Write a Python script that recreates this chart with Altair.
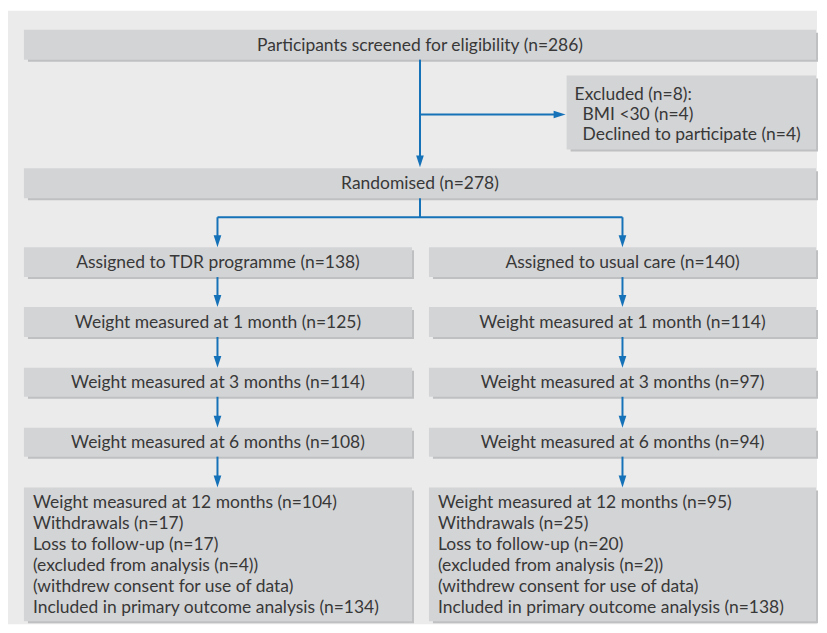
import altair as alt
import pandas as pd

# ---------------- data (text / counts) ----------------
screened_label = "Participants screened for eligibility"
screened_n = 286
excluded_n = 8
excluded_reasons = ["BMI <30", "Declined to participate"]
excluded_counts = [4, 4]
randomised_n = 278
arm_labels = ["Assigned to TDR programme", "Assigned to usual care"]
arm_n = [138, 140]
timepoints = ["1 month", "3 months", "6 months"]
measured_tdr = [125, 114, 108]
measured_uc = [114, 97, 94]
measured_12 = [104, 95]
withdrawals = [17, 25]
lost_followup = [17, 20]
excluded_analysis = [4, 2]
included_primary = [134, 138]

# ---------------- layout (screen pixels) ----------------
BG = "#ebebeb"
BOX = "#d3d4d6"
SHADOW = "#bfc0c2"
TEXT = "#383838"
ARROW = "#1672b8"
FONT = "Lato"
FS = 17.5

cols = [(24, 413), (430, 818)]
col_cx = [218.5, 624]
rows = [(247, 277), (307, 337), (368, 397), (428, 457)]
final_row = (488, 622)

boxes = []
boxes.append((24, 818, 29, 59))       # screened
boxes.append((568, 818, 75, 149))     # excluded
boxes.append((24, 818, 168, 198))     # randomised
for c in cols:
    for r in rows:
        boxes.append((c[0], c[1], r[0], r[1]))
    boxes.append((c[0], c[1], final_row[0], final_row[1]))

box_df = pd.DataFrame(boxes, columns=["x1", "x2", "y1", "y2"])
sh_df = box_df.assign(x1=box_df.x1 + 4, x2=box_df.x2 + 2, y1=box_df.y1 + 3, y2=box_df.y2 + 2)

# centred text
ctext = [(421, 45, f"{screened_label} (n={screened_n})"),
         (421, 184, f"Randomised (n={randomised_n})")]
series = [measured_tdr, measured_uc]
for i in range(2):
    ctext.append((col_cx[i], (rows[0][0] + rows[0][1]) / 2 + 1, f"{arm_labels[i]} (n={arm_n[i]})"))
    for j, tp in enumerate(timepoints):
        r = rows[j + 1]
        ctext.append((col_cx[i], (r[0] + r[1]) / 2 + 1, f"Weight measured at {tp} (n={series[i][j]})"))
ctext_df = pd.DataFrame(ctext, columns=["x", "y", "t"])

# left-aligned text
ltext = [(576, 94, f"Excluded (n={excluded_n}):")]
for k, (lab, n) in enumerate(zip(excluded_reasons, excluded_counts)):
    ltext.append((584, 114.5 + 20.5 * k, f"{lab} (n={n})"))
left_x = [33, 439]
for i in range(2):
    lines = [f"Weight measured at 12 months (n={measured_12[i]})",
             f"Withdrawals (n={withdrawals[i]})",
             f"Loss to follow-up (n={lost_followup[i]})",
             f"(excluded from analysis (n={excluded_analysis[i]}))",
             "(withdrew consent for use of data)",
             f"Included in primary outcome analysis (n={included_primary[i]})"]
    for k, ln in enumerate(lines):
        ltext.append((left_x[i], 503 + 21.2 * k, ln))
ltext_df = pd.DataFrame(ltext, columns=["x", "y", "t"])

# connector lines
segs = [(421, 59, 421, 160), (421, 114, 560, 114),
        (421, 198, 421, 217), (218, 217, 624, 217),
        (218, 217, 218, 240), (624, 217, 624, 240)]
heads = [(421, 167, "down"), (567, 114, "right"), (218, 247, "down"), (624, 247, "down")]
for cx in [218, 624]:
    for a, b in [(277, 307), (337, 368), (397, 428), (457, 488)]:
        segs.append((cx, a, cx, b - 7))
        heads.append((cx, b, "down"))
seg_df = pd.DataFrame(segs, columns=["x1", "y1", "x2", "y2"])
head_df = pd.DataFrame(heads, columns=["x", "y", "dir"])

X = alt.Scale(domain=[8, 819], nice=False, zero=False)
Y = alt.Scale(domain=[8, 625], reverse=True, nice=False, zero=False)


def rects(df, color):
    return alt.Chart(df).mark_rect(color=color).encode(
        x=alt.X("x1:Q", scale=X, axis=None), x2="x2:Q",
        y=alt.Y("y1:Q", scale=Y, axis=None), y2="y2:Q")


bg = alt.Chart(pd.DataFrame({"x1": [8], "x2": [819], "y1": [10], "y2": [625]})).mark_rect(color=BG).encode(
    x=alt.X("x1:Q", scale=X, axis=None), x2="x2:Q",
    y=alt.Y("y1:Q", scale=Y, axis=None), y2="y2:Q")

lines_layer = alt.Chart(seg_df).mark_rule(color=ARROW, strokeWidth=2).encode(
    x=alt.X("x1:Q", scale=X, axis=None), x2="x2:Q",
    y=alt.Y("y1:Q", scale=Y, axis=None), y2="y2:Q")

down = alt.Chart(head_df[head_df.dir == "down"]).mark_point(
    shape="M-0.32,-1L0.32,-1L0,0Z", size=576, filled=True, color=ARROW, opacity=1).encode(
    x=alt.X("x:Q", scale=X, axis=None), y=alt.Y("y:Q", scale=Y, axis=None))
right = alt.Chart(head_df[head_df.dir == "right"]).mark_point(
    shape="M-1,-0.32L-1,0.32L0,0Z", size=576, filled=True, color=ARROW, opacity=1).encode(
    x=alt.X("x:Q", scale=X, axis=None), y=alt.Y("y:Q", scale=Y, axis=None))

ct = alt.Chart(ctext_df).mark_text(font=FONT, fontSize=FS, color=TEXT, align="center", baseline="middle").encode(
    x=alt.X("x:Q", scale=X, axis=None), y=alt.Y("y:Q", scale=Y, axis=None), text="t:N")
lt = alt.Chart(ltext_df).mark_text(font=FONT, fontSize=FS, color=TEXT, align="left", baseline="middle").encode(
    x=alt.X("x:Q", scale=X, axis=None), y=alt.Y("y:Q", scale=Y, axis=None), text="t:N")

chart = alt.layer(bg, rects(sh_df, SHADOW), rects(box_df, BOX), lines_layer, down, right, ct, lt).properties(
    width=811, height=617, padding=0, background="white"
).configure_view(stroke=None)

chart.save("out.html", embed_options={"renderer": "svg", "actions": False})
